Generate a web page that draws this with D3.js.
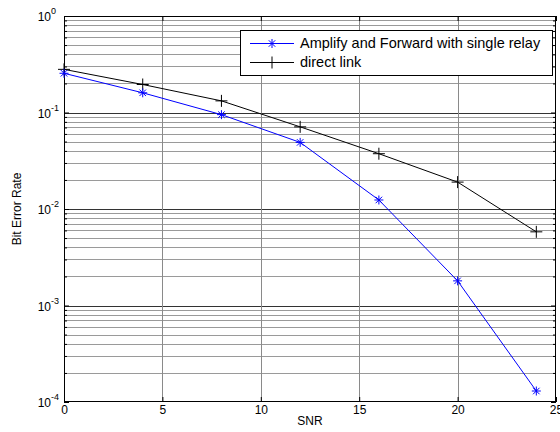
<!DOCTYPE html>
<html>
<head>
<meta charset="utf-8">
<script src="https://cdn.jsdelivr.net/npm/d3@7"></script>
<style>
  html, body { margin: 0; padding: 0; background: #fff; }
  svg { display: block; font-family: Helvetica, Arial, "Liberation Sans", sans-serif; }
</style>
</head>
<body>
<svg id="chart" width="560" height="432"></svg>
<script>
// ---- data ----
const snr = [0, 4, 8, 12, 16, 20, 24];
const berAF = [0.255, 0.160, 0.095, 0.049, 0.0124, 0.00180, 0.00013];
const berDirect = [0.28, 0.195, 0.132, 0.071, 0.0374, 0.0190, 0.0058];
const seriesNames = ["Amplify and Forward with single relay", "direct link"];
const xTicks = [0, 5, 10, 15, 20, 25];
const yExponents = [0, -1, -2, -3, -4];
const xLabel = "SNR";
const yLabel = "Bit Error Rate";

// ---- layout ----
const L = 64, R = 556, T = 16, B = 402;
const svg = d3.select("#chart");

const x = d3.scaleLinear().domain([0, 25]).range([L, R]);
const y = d3.scaleLog().domain([1e-4, 1]).range([B, T]);

const minorVals = [];
for (let e = -4; e < 0; e++) {
  for (let m = 2; m <= 9; m++) minorVals.push(m * Math.pow(10, e));
}
const majorVals = yExponents.map(e => Math.pow(10, e));
const FONT = "Helvetica, Arial, 'Liberation Sans', sans-serif";

// grid
const grid = svg.append("g").attr("class", "grid");
grid.selectAll("line.hmin").data(minorVals).enter().append("line")
  .attr("x1", L).attr("x2", R)
  .attr("y1", d => Math.round(y(d)) + 0.5).attr("y2", d => Math.round(y(d)) + 0.5)
  .attr("stroke", "#9a9a9a").attr("stroke-width", 1);
grid.selectAll("line.hmaj").data(majorVals.filter(v => v > 1e-4 && v < 1)).enter().append("line")
  .attr("x1", L).attr("x2", R)
  .attr("y1", d => Math.round(y(d)) + 0.5).attr("y2", d => Math.round(y(d)) + 0.5)
  .attr("stroke", "#333").attr("stroke-width", 1);
grid.selectAll("line.v").data(xTicks.filter(v => v > 0 && v < 25)).enter().append("line")
  .attr("y1", T).attr("y2", B)
  .attr("x1", d => Math.round(x(d)) + 0.5).attr("x2", d => Math.round(x(d)) + 0.5)
  .attr("stroke", "#8a8a8a").attr("stroke-width", 1);

// axes with inward ticks
const axB = d3.axisBottom(x).tickValues(xTicks).tickSizeInner(-5).tickSizeOuter(0).tickPadding(3);
const axT = d3.axisTop(x).tickValues(xTicks).tickSizeInner(-5).tickSizeOuter(0).tickFormat("");
const axL = d3.axisLeft(y).tickValues(majorVals).tickSizeInner(-5).tickSizeOuter(0).tickFormat("");
const axLm = d3.axisLeft(y).tickValues(minorVals).tickSizeInner(-3).tickSizeOuter(0).tickFormat("");
const axR = d3.axisRight(y).tickValues(majorVals).tickSizeInner(-5).tickSizeOuter(0).tickFormat("");
const axRm = d3.axisRight(y).tickValues(minorVals).tickSizeInner(-3).tickSizeOuter(0).tickFormat("");

function styleAxis(g) {
  g.select(".domain").remove();
  g.selectAll(".tick line").attr("stroke", "#000");
  g.selectAll("text").attr("fill", "#000").attr("font-size", 12).attr("font-family", FONT);
}
svg.append("g").attr("transform", `translate(0,${B})`).call(axB).call(styleAxis);
svg.append("g").attr("transform", `translate(0,${T})`).call(axT).call(styleAxis);
svg.append("g").attr("transform", `translate(${L},0)`).call(axL).call(styleAxis);
svg.append("g").attr("transform", `translate(${L},0)`).call(axLm).call(styleAxis);
svg.append("g").attr("transform", `translate(${R},0)`).call(axR).call(styleAxis);
svg.append("g").attr("transform", `translate(${R},0)`).call(axRm).call(styleAxis);

// y tick labels 10^e
const yl = svg.append("g").attr("class", "ylabels").attr("font-family", FONT);
yExponents.forEach(e => {
  const yy = y(Math.pow(10, e));
  yl.append("text").attr("x", 51).attr("y", yy + 5)
    .attr("text-anchor", "end").attr("font-size", 12).attr("fill", "#000").text("10");
  yl.append("text").attr("x", 51).attr("y", yy - 2)
    .attr("font-size", 9).attr("fill", "#000").text(String(e));
});

// frame
svg.append("rect").attr("x", L + 0.5).attr("y", T + 0.5).attr("width", R - L - 1).attr("height", B - T - 1)
  .attr("fill", "none").attr("stroke", "#000").attr("stroke-width", 1);

// axis labels
svg.append("text").attr("x", (L + R) / 2).attr("y", 425).attr("text-anchor", "middle")
  .attr("font-family", FONT).attr("font-size", 12).attr("fill", "#000").text(xLabel);
svg.append("text").attr("transform", `translate(20.5,${(T + B) / 2}) rotate(-90)`).attr("text-anchor", "middle")
  .attr("font-family", FONT).attr("font-size", 12).attr("fill", "#000").text(yLabel);

// series
const line = d3.line().x(d => x(d[0])).y(d => y(d[1]));
const afData = snr.map((s, i) => [s, berAF[i]]);
const dlData = snr.map((s, i) => [s, berDirect[i]]);

function starPath(cx, cy, r) {
  const d = r * 0.72;
  return `M${cx - r},${cy}L${cx + r},${cy}M${cx},${cy - r}L${cx},${cy + r}` +
         `M${cx - d},${cy - d}L${cx + d},${cy + d}M${cx - d},${cy + d}L${cx + d},${cy - d}`;
}
function plusPath(cx, cy, r) {
  return `M${cx - r},${cy}L${cx + r},${cy}M${cx},${cy - r}L${cx},${cy + r}`;
}

svg.append("path").datum(dlData).attr("d", line).attr("fill", "none").attr("stroke", "#000").attr("stroke-width", 1);
svg.append("path").datum(afData).attr("d", line).attr("fill", "none").attr("stroke", "#0000ff").attr("stroke-width", 1);

svg.append("g").selectAll("path").data(dlData).enter().append("path")
  .attr("d", d => plusPath(x(d[0]), y(d[1]), 6)).attr("stroke", "#000").attr("stroke-width", 1).attr("fill", "none");
svg.append("g").selectAll("path").data(afData).enter().append("path")
  .attr("d", d => starPath(x(d[0]), y(d[1]), 4.5)).attr("stroke", "#0000ff").attr("stroke-width", 1).attr("fill", "none");

// legend
const lg = svg.append("g").attr("font-family", FONT);
const lx = 240, ly = 30, lw = 312, lh = 45;
lg.append("rect").attr("x", lx + 0.5).attr("y", ly + 0.5).attr("width", lw).attr("height", lh)
  .attr("fill", "#fff").attr("stroke", "#000").attr("stroke-width", 1);
const rows = [
  { name: seriesNames[0], color: "#0000ff", marker: starPath, r: 4.5, yy: 43 },
  { name: seriesNames[1], color: "#000", marker: plusPath, r: 6, yy: 62 }
];
rows.forEach(rw => {
  lg.append("line").attr("x1", 250).attr("x2", 294).attr("y1", rw.yy + 0.5).attr("y2", rw.yy + 0.5)
    .attr("stroke", rw.color).attr("stroke-width", 1);
  lg.append("path").attr("d", rw.marker(272, rw.yy + 0.5, rw.r)).attr("stroke", rw.color).attr("fill", "none");
  lg.append("text").attr("x", 300).attr("y", rw.yy + 5).attr("font-size", 14.5).attr("fill", "#000").text(rw.name);
});
</script>
</body>
</html>
